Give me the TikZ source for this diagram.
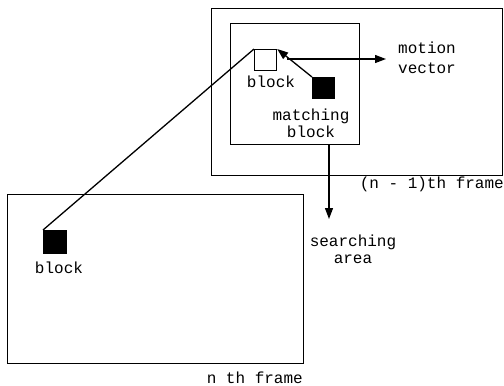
\documentclass[tikz,border=0pt]{standalone}
\usepackage{fontspec}
\setmonofont{Liberation Mono}
\usetikzlibrary{arrows.meta}
\tikzset{
  frame/.style={draw, line width=1.4pt, inner sep=0pt, anchor=north west},
  blk/.style={draw, line width=1.2pt, inner sep=0pt, anchor=north west, minimum width=22pt, minimum height=21pt},
  lbl/.style={font=\ttfamily\fontsize{16}{17}\selectfont, inner sep=0pt, align=center},
  conn/.style={line width=1.3pt},
  arr/.style={line width=1.3pt, -{Triangle[length=11pt,width=8pt]}}
}
\begin{document}
\begin{tikzpicture}[x=1pt,y=-1pt]
\useasboundingbox (0,0) rectangle (504,386);
% frames
\node[frame, minimum width=291pt, minimum height=167pt] (prev) at (211,8) {};
\node[frame, minimum width=129pt, minimum height=121pt] (search) at (230,23) {};
\node[frame, minimum width=296pt, minimum height=169pt] (cur) at (7,194) {};
% blocks
\node[blk, fill=white] (wblock) at (254,49) {};
\node[blk, fill=black] (mblock) at (312,77) {};
\node[blk, fill=black, minimum width=23pt, minimum height=23pt] (nblock) at (43,230) {};
% labels
\node[lbl] (lwb) at (271,82) {block};
\node[lbl] (lmb) at (311,123) {matching\\block};
\node[lbl, anchor=west, align=left, font=\ttfamily\fontsize{16}{20}\selectfont] (lmv) at (398,58) {motion\\vector};
\node[lbl] (lnb) at (59,268) {block};
\node[lbl, anchor=east] (lpf) at (504,184) {(n - 1)th frame};
\node[lbl, anchor=east] (lcf) at (303,378) {n th frame};
\node[lbl] (lsa) at (353,249) {searching\\area};
% connectors
\draw[conn] (nblock.north west) -- (wblock.north west);
\draw[arr] (mblock.north west) -- (wblock.north east);
\coordinate (mvs) at (287,59);
\coordinate (mve) at (386,59);
\draw[arr] (mvs) -- (mve);
\coordinate (sas) at (329,144);
\coordinate (sae) at (329,219);
\draw[arr] (sas) -- (sae);
\end{tikzpicture}
\end{document}
